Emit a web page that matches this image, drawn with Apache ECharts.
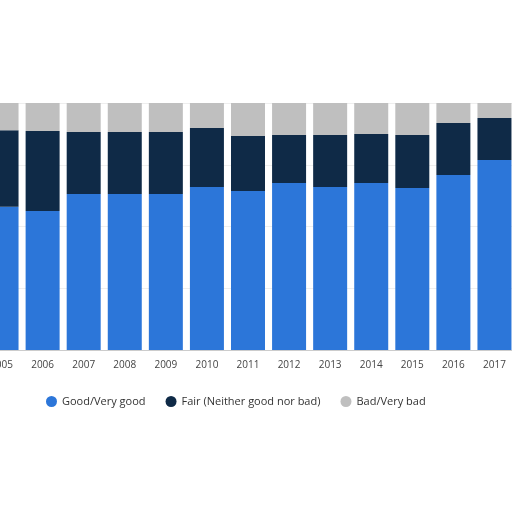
<!DOCTYPE html><html><head><meta charset="utf-8"><script src="https://cdn.jsdelivr.net/npm/echarts@6/dist/echarts.min.js"></script></head><body style="margin:0;background:#fff;overflow:hidden"><div id="c" style="width:534px;height:512px;margin-left:-19px"></div><script>
const years=['2005','2006','2007','2008','2009','2010','2011','2012','2013','2014','2015','2016','2017'];
const good=[58,56.3,63.2,63.2,63.2,66,64.4,67.6,66,67.6,65.6,70.9,76.9];
const fair=[31,32.4,25.1,25.1,25.1,23.9,22.2,19.4,21,19.8,21.4,21,17];
const bad=[11,11.3,11.7,11.7,11.7,10.1,13.4,13,13,12.6,13,8.1,6.1];
const c=echarts.init(document.getElementById('c'));
const s=(n,d,col)=>({name:n,type:'bar',stack:'a',data:d,barWidth:34,itemStyle:{color:col}});
c.setOption({animation:false,
grid:{left:0,right:0,top:103,bottom:162},
legend:{bottom:100,left:60,icon:'circle',itemWidth:11,itemHeight:11,itemGap:20,textStyle:{fontFamily:'Open Sans',fontSize:11,color:'#333'}},
xAxis:{type:'category',data:years,axisTick:{show:false},axisLine:{lineStyle:{color:'#ccc'}},axisLabel:{fontFamily:'Open Sans',fontSize:10,color:'#444',margin:10}},
yAxis:{type:'value',min:0,max:100,interval:25,axisLabel:{show:false},splitLine:{lineStyle:{color:'#eee'}}},
series:[s('Good/Very good',good,'#2c76d9'),s('Fair (Neither good nor bad)',fair,'#0f2a47'),s('Bad/Very bad',bad,'#bfbfbf')]});
</script></body></html>
